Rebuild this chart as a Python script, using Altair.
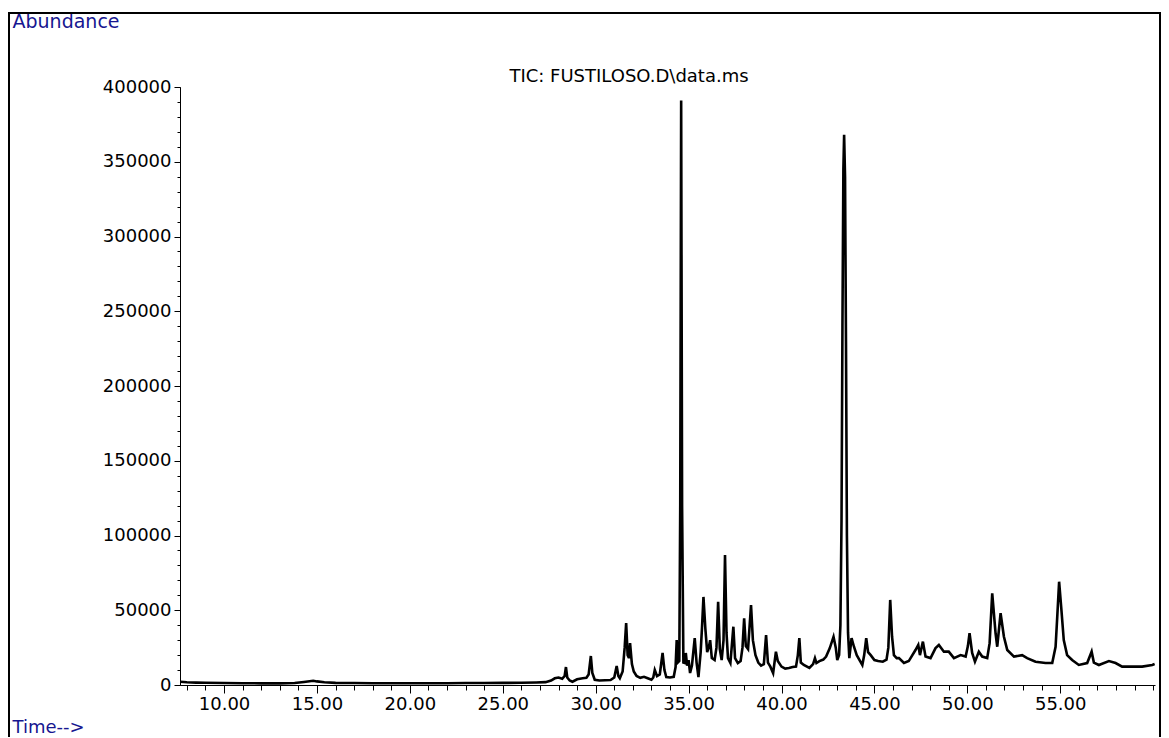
import altair as alt
import pandas as pd

# Retention time (min) and total ion current abundance
time_min = [
    7.65, 8.0, 8.5, 9.0, 10.0, 11.0, 12.0, 13.0, 13.8, 14.3, 14.8, 15.0, 15.4, 16.0,
    17.0, 18.0, 19.0, 20.0, 21.0, 22.0, 23.0, 24.0, 25.0, 26.0, 26.8, 27.3, 27.6,
    27.8, 28.0, 28.2, 28.33, 28.4, 28.47, 28.6, 28.75, 29.0, 29.3, 29.5, 29.62,
    29.74, 29.82, 29.95, 30.2, 30.5, 30.8, 31.0, 31.13, 31.22, 31.3, 31.45, 31.56,
    31.64, 31.72, 31.79, 31.85, 31.95, 32.05, 32.2, 32.4, 32.6, 32.8, 33.0, 33.1,
    33.18, 33.3, 33.45, 33.6, 33.7, 33.8, 34.0, 34.2, 34.3, 34.36, 34.42, 34.5,
    34.55, 34.6, 34.65, 34.72, 34.8, 34.85, 34.92, 35.0, 35.08, 35.18, 35.33,
    35.43, 35.53, 35.65, 35.72, 35.8, 35.9, 36.0, 36.1, 36.16, 36.25, 36.4, 36.5,
    36.59, 36.68, 36.78, 36.88, 36.96, 37.04, 37.12, 37.25, 37.41, 37.5, 37.65,
    37.8, 37.9, 37.99, 38.08, 38.2, 38.36, 38.46, 38.6, 38.75, 38.9, 39.05, 39.17,
    39.27, 39.4, 39.55, 39.7, 39.8, 40.0, 40.2, 40.4, 40.6, 40.78, 40.88, 40.96,
    41.04, 41.2, 41.5, 41.7, 41.8, 41.88, 42.04, 42.25, 42.4, 42.6, 42.8, 42.92,
    43.0, 43.1, 43.17, 43.23, 43.28, 43.33, 43.37, 43.42, 43.47, 43.52, 43.58,
    43.65, 43.77, 43.9, 44.05, 44.2, 44.35, 44.45, 44.56, 44.66, 44.8, 45.0, 45.2,
    45.45, 45.65, 45.75, 45.85, 45.95, 46.05, 46.2, 46.32, 46.59, 46.85, 47.21,
    47.36, 47.45, 47.61, 47.75, 48.02, 48.29, 48.47, 48.74, 49.0, 49.28, 49.64,
    49.91, 50.03, 50.12, 50.26, 50.41, 50.62, 50.8, 51.07, 51.2, 51.34, 51.52,
    51.61, 51.79, 51.97, 52.15, 52.51, 52.95, 53.22, 53.67, 54.21, 54.57, 54.75,
    54.84, 54.94, 55.05, 55.19, 55.37, 55.64, 56.0, 56.45, 56.69, 56.81, 57.08,
    57.62, 57.98, 58.33, 58.87, 59.41, 59.95, 60.08,
]
abundance = [
    2200, 1800, 1600, 1500, 1300, 1200, 1100, 1100, 1300, 2000, 2800, 2400, 1800, 1400,
    1300, 1200, 1200, 1200, 1200, 1200, 1300, 1300, 1400, 1500, 1700, 1900, 3000,
    4500, 5000, 4200, 6000, 12000, 5000, 3000, 2200, 3800, 4500, 4800, 7000,
    19400, 8000, 3500, 3000, 3200, 3300, 5000, 12700, 6000, 4500, 9000, 25000,
    41500, 20000, 18000, 28000, 14000, 9000, 6000, 4800, 5500, 4500, 3500, 5000,
    10000, 6000, 7000, 21400, 10000, 5300, 5000, 5500, 12000, 30000, 15000, 16000,
    120000, 391000, 120000, 15000, 14700, 21400, 13000, 16700, 8000, 13000, 31400,
    15000, 5300, 22000, 38000, 58900, 38000, 22000, 26000, 30000, 18000, 16700, 25000,
    55700, 24000, 16700, 30000, 87000, 35000, 18000, 14700, 39000, 18000, 14700,
    16000, 25000, 44600, 26000, 24000, 53500, 30000, 20000, 15000, 13000, 14000, 33400,
    15000, 12300, 8000, 22300, 16000, 12300, 11000, 11400, 12000, 12300, 20000, 31400,
    15000, 13400, 11400, 14000, 18000, 14700, 16000, 17000, 19000, 24700, 32300, 25000,
    16700, 20000, 40000, 110000, 240000, 345000, 368000, 340000, 230000, 100000, 35000,
    18000, 31400, 25600, 20000, 16700, 13400, 20000, 31400, 22000, 20000, 16700, 16000,
    15600, 17000, 25000, 56900, 32300, 20000, 18000, 18000, 14700, 16000, 23400,
    26800, 20000, 29000, 19000, 18000, 24700, 26800, 22300, 22300, 18000, 20000,
    19000, 26000, 34600, 21400, 15600, 22300, 19000, 18000, 28000, 61300, 34600,
    25600, 48000, 32300, 23400, 19000, 20000, 18000, 15600, 14700, 14700, 25600,
    45700, 69100, 52400, 30000, 20000, 16700, 13400, 14700, 22300, 15000, 13400,
    16000, 14700, 12300, 12300, 12300, 13400, 14000,
]

x_major = [10, 15, 20, 25, 30, 35, 40, 45, 50, 55]
x_minor = [8, 9, 10, 11, 12, 13, 14, 15, 16, 17, 18, 19, 20, 21, 22, 23, 24, 25, 26,
           27, 28, 29, 30, 31, 32, 33, 34, 35, 36, 37, 38, 39, 40, 41, 42, 43, 44, 45,
           46, 47, 48, 49, 50, 51, 52, 53, 54, 55, 56, 57, 58, 59, 60]
y_major = [0, 50000, 100000, 150000, 200000, 250000, 300000, 350000, 400000]
y_minor = [0, 10000, 20000, 30000, 40000, 50000, 60000, 70000, 80000, 90000, 100000,
           110000, 120000, 130000, 140000, 150000, 160000, 170000, 180000, 190000,
           200000, 210000, 220000, 230000, 240000, 250000, 260000, 270000, 280000,
           290000, 300000, 310000, 320000, 330000, 340000, 350000, 360000, 370000,
           380000, 390000, 400000]

chart_title = ["TIC: FUSTILOSO.D\\data.ms"]

df = pd.DataFrame({"time": time_min, "abundance": abundance})

FONT = "DejaVu Sans"
BLUE = "#161690"

xscale = alt.Scale(domain=[7.63, 60.1], nice=False, zero=False)
yscale = alt.Scale(domain=[0, 400000], nice=False, zero=True)

frame = alt.Chart(pd.DataFrame({"k": [0]})).mark_rect(
    filled=False, color="black", strokeWidth=2
).encode(
    x=alt.value(-171), x2=alt.value(980), y=alt.value(-74), y2=alt.value(665)
)

title_text = alt.Chart(pd.DataFrame({"label": chart_title})).mark_text(
    font=FONT, fontSize=18, color="black", align="center", baseline="alphabetic"
).encode(
    text="label:N", x=alt.value(449), y=alt.value(-5)
)

minor = alt.Chart(df).mark_line(strokeOpacity=0).encode(
    x=alt.X("time:Q", scale=xscale,
            axis=alt.Axis(values=x_minor, labels=False, tickSize=5, domain=False,
                          grid=False, title="", orient="bottom", tickColor="black")),
    y=alt.Y("abundance:Q", scale=yscale,
            axis=alt.Axis(values=y_minor, labels=False, tickSize=3, domain=False,
                          grid=False, title="", orient="left", tickColor="black")),
)

line = alt.Chart(df).mark_line(color="black", strokeWidth=2.6, clip=True).encode(
    x=alt.X("time:Q", scale=xscale,
            axis=alt.Axis(values=x_major, format=".2f", tickSize=8, labelPadding=2,
                          grid=False, orient="bottom", domainColor="black",
                          tickColor="black", labelColor="black", labelFont=FONT,
                          labelFontSize=18, labelOverlap=False,
                          title="Time-->", titleX=-168, titleY=47, titleAngle=0,
                          titleAlign="left", titleBaseline="alphabetic",
                          titleColor=BLUE, titleFont=FONT, titleFontSize=18,
                          titleFontWeight="normal")),
    y=alt.Y("abundance:Q", scale=yscale,
            axis=alt.Axis(values=y_major, format="d", tickSize=6, labelPadding=3,
                          grid=False, orient="left", domainColor="black",
                          tickColor="black", labelColor="black", labelFont=FONT,
                          labelFontSize=18, labelOverlap=False,
                          title="Abundance", titleX=-168, titleY=-60, titleAngle=0,
                          titleAlign="left", titleBaseline="alphabetic",
                          titleColor=BLUE, titleFont=FONT, titleFontSize=19,
                          titleFontWeight="normal")),
)

chart = alt.layer(frame, title_text, minor, line).resolve_axis(
    x="independent", y="independent"
).properties(
    width=975,
    height=598,
    autosize=alt.AutoSizeParams(type="none"),
    padding={"left": 172, "top": 79, "right": 6, "bottom": 52},
).configure_view(stroke="transparent")

chart.save("out.html", embed_options={"renderer": "svg", "actions": False})
